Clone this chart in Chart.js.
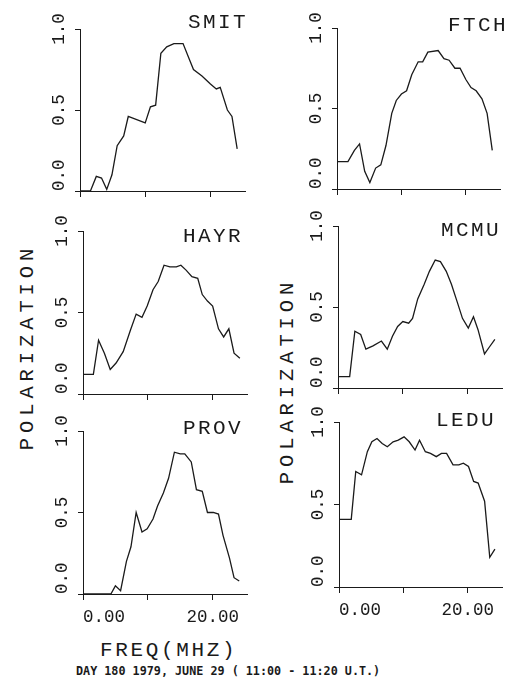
<!DOCTYPE html>
<html>
<head>
<meta charset="utf-8">
<script src="https://cdn.jsdelivr.net/npm/chart.js@4.4.0/dist/chart.umd.min.js"></script>
<style>
    body { margin: 0; background: #fff; }
    #page { position: relative; width: 514px; height: 681px; overflow: hidden; background: #fff;
            font-family: 'Liberation Mono', monospace; color: #1a1a1a; }
    .panel { position: absolute; }
    .name { position: absolute; font-size: 21px; line-height: 21px; letter-spacing: 2.4px; white-space: nowrap; }
    .axis-title { position: absolute; font-size: 21px; line-height: 21px; white-space: nowrap; }
    .rot { font-size: 20.5px; letter-spacing: 4.9px; transform: translate(-50%, -50%) rotate(-90deg); }
    .caption { position: absolute; left: 76px; top: 666px; font-family: 'DejaVu Sans Mono', monospace;
               font-size: 11.75px; line-height: 11.75px; font-weight: bold; white-space: nowrap; }
</style>
</head>
<body>
<div id="page">
    <div class="axis-title rot" style="left:27px; top:347px;">POLARIZATION</div>
    <div class="axis-title rot" style="left:287px; top:381px;">POLARIZATION</div>
    <div class="axis-title" style="left:100px; top:640px; letter-spacing:2.65px;">FREQ(MHZ)</div>
    <div class="caption">DAY 180 1979, JUNE 29 ( 11:00 - 11:20 U.T.)</div>
</div>
<script>
// Polarization vs frequency (MHz)
const smitFreq = [0, 1.6, 2.5, 3.3, 4.1, 4.9, 5.7, 6.7, 7.4, 10.0, 10.8, 11.6, 12.4, 13.3, 14.4, 15.8, 16.7, 17.4, 18.7, 20.0, 20.9, 21.5, 22.6, 23.3, 24.1];
const smitPol  = [0, 0, 0.09, 0.08, 0.01, 0.10, 0.28, 0.34, 0.46, 0.42, 0.52, 0.53, 0.85, 0.89, 0.91, 0.91, 0.82, 0.75, 0.71, 0.66, 0.63, 0.64, 0.50, 0.46, 0.26];

const ftchFreq = [0, 1.7, 2.7, 3.5, 4.3, 5.1, 6.0, 6.8, 7.6, 8.5, 9.2, 10.0, 10.8, 11.6, 12.6, 13.3, 14.1, 15.7, 16.6, 17.4, 18.3, 19.1, 20.0, 20.8, 21.6, 22.5, 23.3, 24.1];
const ftchPol  = [0.17, 0.17, 0.24, 0.28, 0.11, 0.04, 0.13, 0.15, 0.27, 0.47, 0.55, 0.59, 0.61, 0.71, 0.79, 0.79, 0.85, 0.86, 0.81, 0.80, 0.75, 0.75, 0.68, 0.63, 0.61, 0.56, 0.47, 0.24];

const hayrFreq = [0, 1.6, 2.4, 3.3, 4.2, 5.1, 6.2, 7.3, 8.2, 9.1, 9.9, 10.8, 11.6, 12.5, 13.4, 14.4, 15.1, 15.9, 16.8, 17.7, 18.4, 19.2, 20.0, 20.9, 21.7, 22.5, 23.3, 24.2];
const hayrPol  = [0.12, 0.12, 0.33, 0.25, 0.15, 0.19, 0.26, 0.39, 0.49, 0.47, 0.54, 0.64, 0.69, 0.79, 0.78, 0.78, 0.79, 0.76, 0.72, 0.71, 0.61, 0.57, 0.54, 0.40, 0.35, 0.40, 0.25, 0.22];

const mcmuFreq = [0, 1.8, 2.6, 3.5, 4.3, 5.4, 6.7, 7.6, 8.4, 9.2, 10.0, 10.9, 11.5, 12.3, 13.3, 14.1, 15.0, 15.8, 16.7, 17.5, 18.4, 19.2, 20.1, 20.9, 21.6, 22.6, 23.3, 24.2];
const mcmuPol  = [0.07, 0.07, 0.35, 0.33, 0.24, 0.26, 0.29, 0.24, 0.32, 0.38, 0.41, 0.40, 0.43, 0.55, 0.64, 0.72, 0.79, 0.78, 0.72, 0.64, 0.53, 0.43, 0.37, 0.44, 0.36, 0.21, 0.25, 0.30];

const provFreq = [0, 4.3, 5.0, 5.8, 6.7, 7.4, 8.2, 9.1, 9.9, 10.8, 11.5, 12.4, 13.2, 14.1, 15.0, 15.7, 16.7, 17.5, 18.4, 19.2, 20.1, 20.9, 21.6, 22.6, 23.3, 24.1];
const provPol  = [0, 0, 0.05, 0.02, 0.20, 0.29, 0.50, 0.38, 0.40, 0.46, 0.54, 0.62, 0.71, 0.87, 0.86, 0.86, 0.81, 0.64, 0.63, 0.50, 0.50, 0.49, 0.36, 0.22, 0.10, 0.08];

const leduFreq = [0, 1.9, 2.6, 3.5, 4.4, 5.1, 5.9, 6.7, 7.5, 8.4, 9.2, 10.1, 10.9, 11.8, 12.5, 13.4, 14.2, 15.1, 15.9, 16.7, 17.7, 18.6, 19.3, 20.1, 20.9, 21.6, 22.6, 23.4, 24.2];
const leduPol  = [0.41, 0.41, 0.70, 0.68, 0.82, 0.88, 0.90, 0.87, 0.85, 0.88, 0.89, 0.91, 0.88, 0.83, 0.89, 0.82, 0.81, 0.79, 0.81, 0.81, 0.74, 0.74, 0.75, 0.73, 0.64, 0.63, 0.52, 0.18, 0.23];

const yTicks = [0, 0.5, 1.0];
// the first label on each axis starts at the axis corner instead of being centred on it,
// as in the original plot: leading spaces push it inward
const yTickLabels = { 0: '   0.0', 0.5: '0.5', 1: '1.0' };
const xTickLabels = { 0: '    0.00', 20: '20.00' };
const freqMax = 25.3;

// plot box of each panel on the page (L, T, R, B = axis corner positions)
const panels = [
    { name: 'SMIT', freq: smitFreq, pol: smitPol, L: 80,  T: 29,  R: 245, B: 191, nx: 188, ny: 12,  xLabels: false },
    { name: 'HAYR', freq: hayrFreq, pol: hayrPol, L: 83,  T: 231, R: 247, B: 394, nx: 183, ny: 226, xLabels: false },
    { name: 'PROV', freq: provFreq, pol: provPol, L: 83,  T: 431, R: 247, B: 594, nx: 183, ny: 418, xLabels: true },
    { name: 'FTCH', freq: ftchFreq, pol: ftchPol, L: 337, T: 28,  R: 500, B: 189, nx: 448, ny: 15,  xLabels: false },
    { name: 'MCMU', freq: mcmuFreq, pol: mcmuPol, L: 338, T: 226, R: 502, B: 388, nx: 441, ny: 220, xLabels: false },
    { name: 'LEDU', freq: leduFreq, pol: leduPol, L: 339, T: 422, R: 502, B: 587, nx: 436, ny: 410, xLabels: true }
];

const ink = '#1a1a1a';
const tickFont = { family: "'Liberation Mono', monospace", size: 17.5 };

function makePanel(p) {
    const padL = 60, padT = 24, padR = 8, padB = 38;
    const w = p.R - p.L + padL + padR;
    const h = p.B - p.T + padT + padB;

    const page = document.getElementById('page');
    const box = document.createElement('div');
    box.className = 'panel';
    box.style.left = (p.L - padL) + 'px';
    box.style.top = (p.T - padT) + 'px';
    box.style.width = w + 'px';
    box.style.height = h + 'px';
    const canvas = document.createElement('canvas');
    canvas.width = w;
    canvas.height = h;
    box.appendChild(canvas);
    page.appendChild(box);

    const label = document.createElement('div');
    label.className = 'name';
    label.style.left = p.nx + 'px';
    label.style.top = p.ny + 'px';
    label.textContent = p.name;
    page.appendChild(label);

    new Chart(canvas.getContext('2d'), {
        type: 'line',
        data: {
            datasets: [{
                data: p.freq.map((f, i) => ({ x: f, y: p.pol[i] })),
                borderColor: ink,
                borderWidth: 1.3,
                pointRadius: 0,
                tension: 0,
                fill: false
            }]
        },
        options: {
            responsive: false,
            animation: false,
            events: [],
            layout: { padding: { left: 0, top: padT, right: padR, bottom: 0 } },
            plugins: { legend: { display: false }, tooltip: { enabled: false } },
            scales: {
                x: {
                    type: 'linear',
                    min: 0,
                    max: freqMax,
                    afterFit: scale => { scale.height = padB; },
                    border: { display: true, color: ink, width: 1 },
                    grid: { drawOnChartArea: false, drawTicks: true, tickLength: 6, color: ink },
                    ticks: {
                        stepSize: 10,
                        includeBounds: false,
                        autoSkip: false,
                        maxRotation: 0,
                        padding: 7,
                        color: ink,
                        font: tickFont,
                        callback: value => p.xLabels ? (xTickLabels[value] || '') : ''
                    }
                },
                y: {
                    min: yTicks[0],
                    max: yTicks[yTicks.length - 1],
                    afterFit: scale => { scale.width = padL; },
                    border: { display: true, color: ink, width: 1 },
                    grid: { drawOnChartArea: false, drawTicks: true, tickLength: 5, color: ink },
                    ticks: {
                        stepSize: 0.5,
                        minRotation: 90,
                        maxRotation: 90,
                        crossAlign: 'center',
                        padding: -15.5,   // widest label carries the padding spaces
                        color: ink,
                        font: tickFont,
                        callback: value => yTickLabels[value] || value.toFixed(1)
                    }
                }
            }
        }
    });
}

panels.forEach(makePanel);
</script>
</body>
</html>
